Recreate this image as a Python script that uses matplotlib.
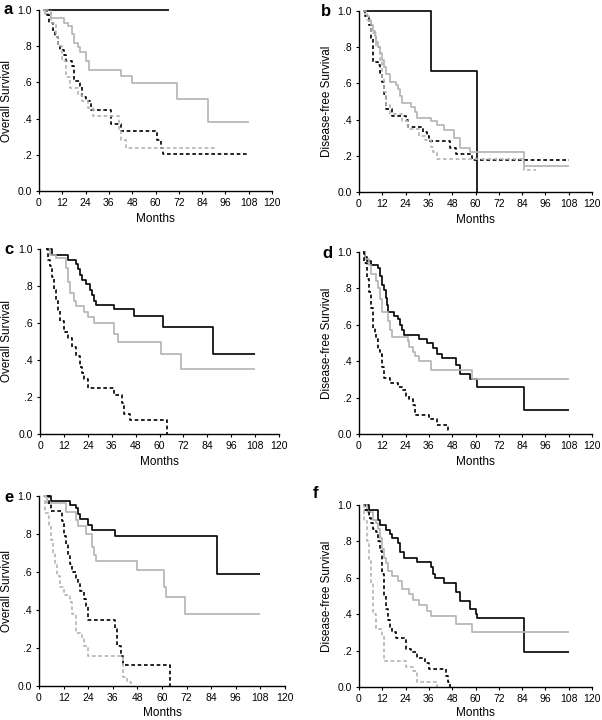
import matplotlib
matplotlib.use("Agg")
import matplotlib.pyplot as plt

plt.rcParams['font.family'] = ['Liberation Sans', 'DejaVu Sans']

# ---- Kaplan-Meier step data (months, survival) ----
# panel a: overall survival
a_black = ([2, 67], [1.0, 1.0])
a_gray = ([2, 3, 6, 13, 15, 17, 18, 20, 21, 24, 26, 42, 48, 71, 87, 108],
          [1.0, .98, .955, .93, .91, .865, .82, .795, .77, .72, .67, .635, .595, .51, .38, .38])
a_black_d = ([3, 4, 5, 7, 8, 10, 11, 13, 14, 17, 18, 21, 22, 24, 27, 37, 42, 61, 63, 64, 108],
             [1.0, .97, .93, .88, .85, .80, .78, .75, .72, .69, .61, .58, .52, .50, .45, .37, .33, .28, .24, .205, .205])
a_gray_d = ([3, 6, 9, 10, 12, 14, 16, 20, 22, 25, 28, 41, 42, 45, 91],
            [1.0, .93, .85, .80, .72, .63, .57, .53, .50, .46, .415, .33, .28, .235, .235])

# panel b: disease-free survival
b_black = ([2, 37, 61, 61], [1.0, .67, 0.0, 0.0])
b_gray = ([2, 3, 5, 6, 7, 8, 9, 10, 11, 12, 13, 14, 16, 19, 20, 21, 22, 27, 29, 30, 37, 40, 44, 49, 52, 57, 85, 108],
          [1.0, .97, .95, .92, .89, .86, .83, .80, .77, .73, .69, .65, .61, .59, .57, .53, .49, .47, .44, .41,
           .39, .37, .345, .30, .245, .22, .145, .145])
b_black_d = ([2, 3, 5, 6, 7, 10, 11, 12, 13, 14, 17, 24, 25, 33, 35, 36, 47, 50, 58, 108],
             [1.0, .97, .92, .85, .72, .70, .66, .61, .54, .46, .42, .40, .36, .33, .31, .28, .245, .21, .175, .175])
b_gray_d = ([2, 4, 6, 9, 11, 12, 13, 14, 16, 22, 25, 31, 34, 37, 38, 40, 85, 91],
            [1.0, .95, .88, .80, .73, .63, .55, .48, .43, .39, .35, .31, .29, .25, .22, .18, .12, .12])

# panel c: overall survival
c_black = ([3, 6, 14, 18, 19, 20, 21, 23, 25, 26, 27, 28, 37, 47, 62, 87, 108],
           [1.0, .97, .94, .92, .89, .86, .83, .81, .78, .75, .72, .70, .675, .64, .58, .433, .433])
c_gray = ([3, 5, 8, 13, 14, 15, 17, 18, 22, 24, 27, 37, 39, 61, 71, 108],
          [1.0, .97, .95, .90, .82, .76, .72, .69, .66, .63, .60, .54, .50, .435, .35, .35])
c_black_d = ([3, 4, 5, 6, 7, 8, 9, 10, 12, 14, 16, 18, 20, 21, 22, 24, 37, 41, 42, 45, 64, 64],
             [1.0, .94, .91, .85, .78, .72, .67, .61, .55, .52, .47, .42, .36, .33, .30, .25, .21, .17, .11, .075, 0.0, 0.0])

# panel d: disease-free survival
d_black = ([2, 3, 4, 6, 10, 11, 12, 13, 14, 14.5, 15, 18, 20, 21, 22, 23, 31, 35, 38, 40, 43, 50, 52, 57, 61, 85, 108],
           [1.0, .97, .95, .93, .91, .87, .82, .79, .75, .71, .67, .65, .63, .60, .57, .545, .52, .50, .47, .44,
            .42, .38, .33, .30, .26, .13, .13])
d_gray = ([2, 3, 5, 6, 9, 10, 11, 12, 15, 16, 17, 25, 26, 28, 29, 31, 37, 58, 108],
          [1.0, .96, .93, .88, .84, .80, .74, .67, .62, .57, .535, .51, .48, .45, .43, .40, .35, .30, .30])
d_black_d = ([2, 2.5, 4, 5, 6, 7, 8, 9, 10, 11, 12, 13, 16, 20, 22, 24, 26, 28, 29, 36, 40, 46, 47.5],
             [1.0, .94, .85, .78, .69, .58, .55, .52, .46, .44, .37, .31, .28, .26, .24, .21, .19, .16, .105, .08,
              .05, .02, .02])

# panel e: overall survival
e_black = ([3, 6, 15, 18, 19, 20, 24, 26, 37, 87, 108],
           [1.0, .975, .955, .935, .905, .88, .85, .82, .79, .59, .59])
e_gray = ([3, 4, 13, 18, 19, 23, 26, 27, 28, 48, 61, 62, 71, 108],
          [1.0, .965, .915, .875, .84, .80, .73, .69, .66, .61, .52, .47, .38, .38])
e_black_d = ([4, 5, 6, 11, 12, 13, 14, 15, 16, 18, 19, 20, 22, 23, 24, 37, 38, 40, 41, 64, 64],
             [1.0, .96, .92, .87, .79, .75, .69, .64, .60, .57, .54, .50, .46, .42, .345, .30, .21, .16, .11, 0.0, 0.0])
e_gray_d = ([2, 3, 5, 6, 7, 8, 9, 10, 12, 15, 16, 18, 21, 22, 24, 41, 43, 45, 45],
            [1.0, .91, .85, .77, .70, .64, .58, .52, .48, .44, .38, .28, .25, .21, .16, .05, .02, 0.0, 0.0])

# panel f: disease-free survival
f_black = ([2, 5, 10, 11, 14, 16, 17, 20, 21, 23, 30, 37, 38, 39, 44, 50, 52, 57, 60, 61, 85, 108],
           [1.0, .975, .92, .89, .86, .84, .82, .79, .74, .71, .685, .66, .62, .60, .57, .52, .47, .43, .40, .38,
            .19, .19])
f_gray = ([3, 4, 7, 9, 10, 11, 12, 13, 14, 15, 17, 20, 22, 26, 28, 31, 35, 37, 50, 58, 108],
          [1.0, .96, .92, .90, .87, .82, .76, .71, .68, .64, .61, .58, .54, .51, .48, .45, .42, .39, .345, .30, .30])
f_black_d = ([2, 3, 5, 6, 7, 9, 10, 11, 12, 13, 14, 15, 16, 17, 19, 24, 27, 30, 34, 36, 45, 46, 47, 47],
             [1.0, .97, .93, .90, .87, .85, .80, .75, .62, .50, .43, .37, .33, .30, .27, .21, .19, .16, .13, .10,
              .06, .025, 0.0, 0.0])
f_gray_d = ([2, 2.5, 4, 5, 6, 7, 9, 12, 13, 24, 28, 30, 40, 40],
            [1.0, .91, .80, .69, .57, .40, .32, .28, .145, .11, .09, .03, 0.0, 0.0])

panel_letters = ['a', 'b', 'c', 'd', 'e', 'f']
y_titles = ['Overall Survival', 'Disease-free Survival'] * 3
x_ticks = list(range(0, 121, 12))
y_ticks = [0.0, 0.2, 0.4, 0.6, 0.8, 1.0]
y_ticklabels = ['0.0', '.2', '.4', '.6', '.8', '1.0']

curves = [
    [a_black, a_gray, a_black_d, a_gray_d],
    [b_black, b_gray, b_black_d, b_gray_d],
    [c_black, c_gray, c_black_d, None],
    [d_black, d_gray, d_black_d, None],
    [e_black, e_gray, e_black_d, e_gray_d],
    [f_black, f_gray, f_black_d, f_gray_d],
]

GRAY = '#b3b3b3'
styles = [
    dict(color='black', lw=1.2, ls='-'),
    dict(color=GRAY, lw=1.2, ls='-'),
    dict(color='black', lw=1.2, ls=(0, (2.2, 1.6))),
    dict(color=GRAY, lw=1.2, ls=(0, (2.2, 1.6))),
]

# axes boxes in pixels: left, right, top, bottom
boxes = [(39, 272, 10, 191), (359, 592, 11, 192),
         (40, 279, 249, 434), (359, 592, 252, 434),
         (39, 285, 496, 686), (359, 592, 505, 687)]
letter_pos = [(4, 10), (321, 12), (4, 249), (322, 253), (4, 497), (313, 493)]
ylabel_x = [7, 327, 7, 327, 7, 327]
months_y = [219, 220, 462, 462, 713, 713]

W, H = 602, 720
fig = plt.figure(figsize=(W / 100, H / 100), dpi=100)

for k in range(6):
    l, r, t, b = boxes[k]
    ax = fig.add_axes([l / W, 1 - b / H, (r - l) / W, (b - t) / H])
    for cur, st in zip(curves[k], styles):
        if cur is None:
            continue
        ax.step(cur[0], cur[1], where='post', solid_capstyle='butt', clip_on=False, **st)
    ax.set_xlim(0, 120)
    ax.set_ylim(0, 1.0)
    ax.set_xticks(x_ticks)
    ax.set_yticks(y_ticks)
    ax.set_yticklabels(y_ticklabels)
    ax.tick_params(labelsize=7.5, length=2, width=0.8, pad=3)
    for s in ['top', 'right']:
        ax.spines[s].set_visible(False)
    for s in ['left', 'bottom']:
        ax.spines[s].set_linewidth(1.0)
    ax.patch.set_alpha(0)
    cx = (l + r) / 2
    fig.text(cx / W, 1 - months_y[k] / H, 'Months', ha='center', va='center', fontsize=8.5)
    fig.text(ylabel_x[k] / W, 1 - ((t + b) / 2) / H, y_titles[k], rotation=90,
             ha='center', va='center', fontsize=8.5)
    lx, ly = letter_pos[k]
    fig.text(lx / W, 1 - ly / H, panel_letters[k], ha='left', va='center',
             fontsize=12, fontweight='bold')

fig.savefig('out.png', dpi=100)
